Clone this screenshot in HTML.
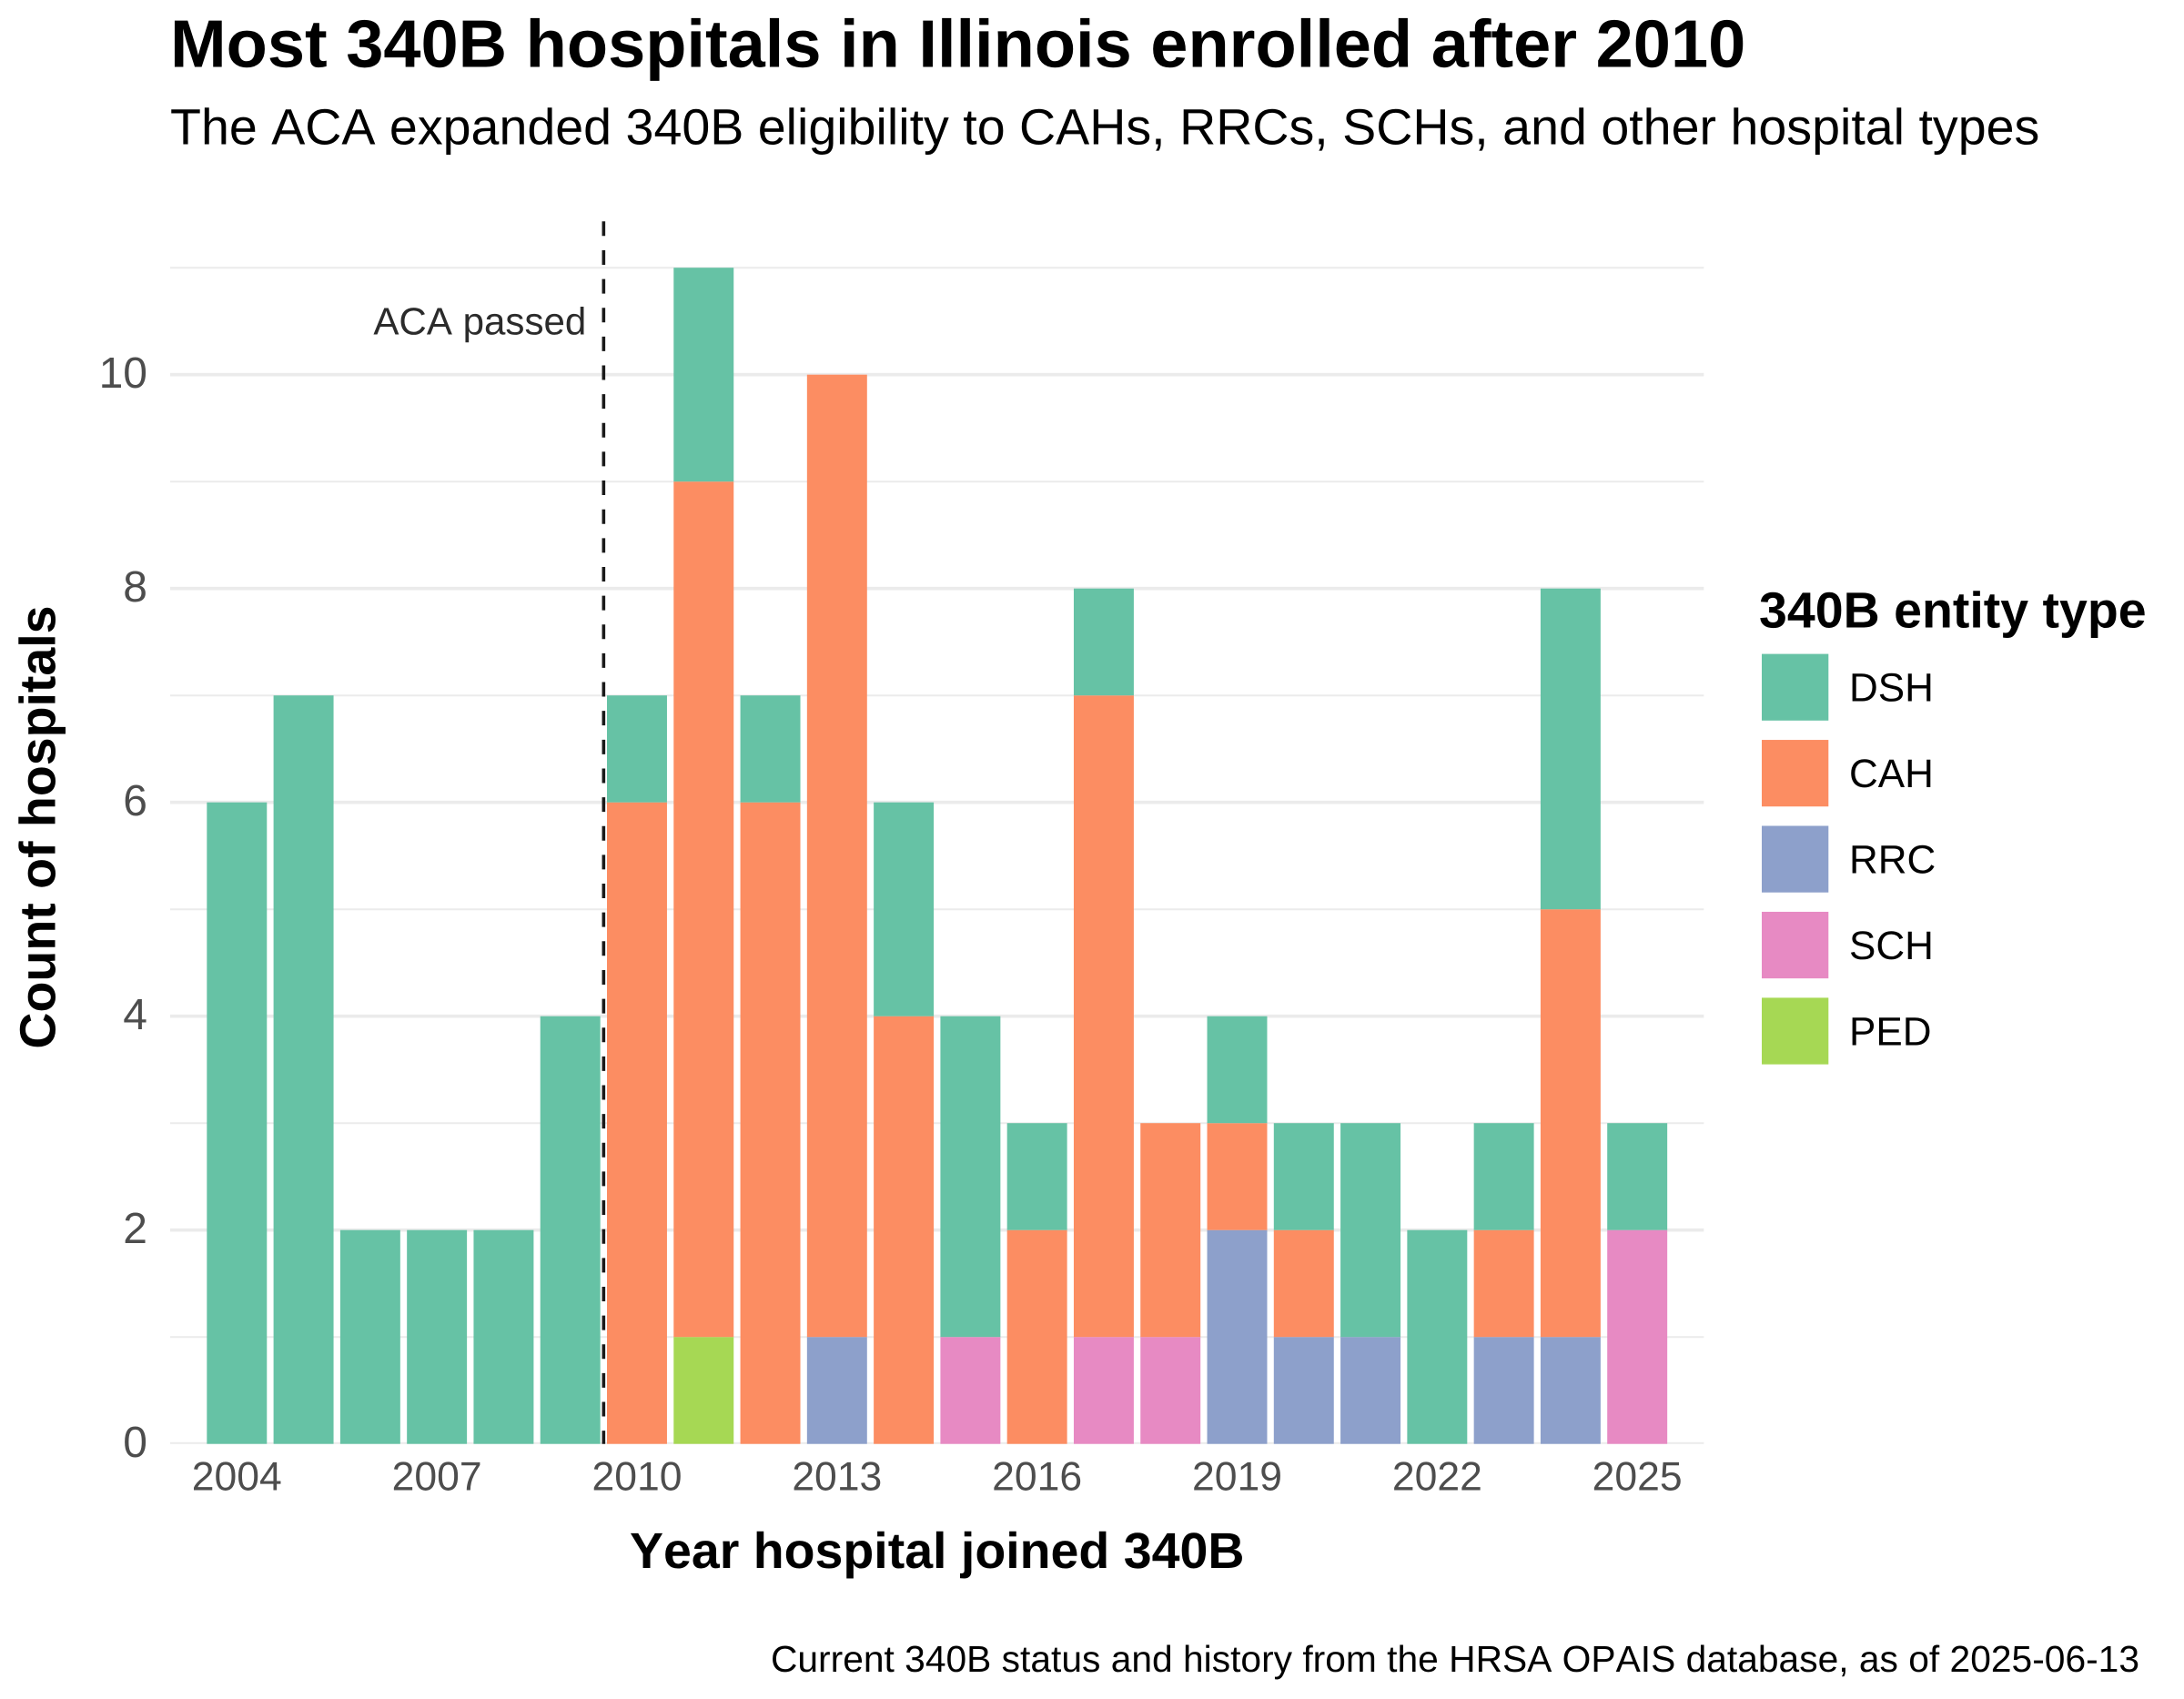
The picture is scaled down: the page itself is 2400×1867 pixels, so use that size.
<!DOCTYPE html>
<html lang="en">
<head>
<meta charset="utf-8">
<title>Most 340B hospitals in Illinois enrolled after 2010</title>
<style>
html,body{margin:0;padding:0;background:#fff}
svg{display:block}
text{font-family:"Liberation Sans",Arial,sans-serif;text-rendering:geometricPrecision;font-kerning:none}
</style>
</head>
<body>
<svg id="chart" xmlns="http://www.w3.org/2000/svg" width="2400" height="1867" viewBox="0 0 2400 1867">
  <defs>
    <clipPath id="panel-clip"><rect x="187" y="243.3" width="1685.4" height="1343.4"/></clipPath>
  </defs>
  <rect x="0" y="0" width="2400" height="1867" fill="#ffffff"/>
  <text x="187" y="73.3" font-size="74" font-weight="700" fill="#000">Most 340B hospitals in Illinois enrolled after 2010</text>
  <text x="187" y="158.3" font-size="55.58" fill="#000">The ACA expanded 340B eligibility to CAHs, RRCs, SCHs, and other hospital types</text>
  <g id="grid" clip-path="url(#panel-clip)"></g>
  <g id="bars"></g>
  <g id="annotation"></g>
  <g id="y-axis"></g>
  <g id="x-axis"></g>
  <text x="1029.7" y="1723" font-size="55.5" font-weight="700" text-anchor="middle" fill="#000">Year hospital joined 340B</text>
  <text transform="translate(60.7,909) rotate(-90)" font-size="55.5" font-weight="700" text-anchor="middle" fill="#000">Count of hospitals</text>
  <g id="legend">
    <text x="1933" y="689.7" font-size="55.5" font-weight="700" fill="#000">340B entity type</text>
  </g>
  <text x="2351" y="1837" font-size="40.75" text-anchor="end" fill="#000">Current 340B status and history from the HRSA OPAIS database, as of 2025-06-13</text>
</svg>
<script>
const years = [2004,2005,2006,2007,2008,2009,2010,2011,2012,2013,2014,2015,2016,2017,2018,2019,2020,2021,2022,2023,2024,2025];
const dsh = [6,7,2,2,2,4,1,2,1,0,2,3,1,1,0,1,1,2,2,1,3,1];
const cah = [0,0,0,0,0,0,6,8,6,9,4,0,2,6,2,1,1,0,0,1,4,0];
const rrc = [0,0,0,0,0,0,0,0,0,1,0,0,0,0,0,2,1,1,0,1,1,0];
const sch = [0,0,0,0,0,0,0,0,0,0,0,1,0,1,1,0,0,0,0,0,0,2];
const ped = [0,0,0,0,0,0,0,1,0,0,0,0,0,0,0,0,0,0,0,0,0,0];
const xTickLabels = [2004,2007,2010,2013,2016,2019,2022,2025];
const yTickLabels = [0,2,4,6,8,10];
const yMinorTicks = [1,3,5,7,9,11];
const legendLabels = ['DSH','CAH','RRC','SCH','PED'];
const acaYear = 2009.5;
const acaLabel = 'ACA passed';

const SVGNS = 'http://www.w3.org/2000/svg';
const fills = {DSH:'#66c2a5',CAH:'#fc8d62',RRC:'#8da0cb',SCH:'#e78ac3',PED:'#a6d854'};
const seriesByName = {DSH:dsh,CAH:cah,RRC:rrc,SCH:sch,PED:ped};
const stackOrder = ['PED','SCH','RRC','CAH','DSH'];
const panel = {left:187,right:1872.4,top:243.3,bottom:1586.7};
const xUnit = 73.28, yUnit = 117.5, barWidth = 0.9;
function xScale(year){ return 260.3 + (year - 2004) * xUnit; }
function yScale(value){ return panel.bottom - value * yUnit; }
function make(tag, parent, props, content){
  const el = document.createElementNS(SVGNS, tag);
  for (const k in props) el.setAttribute(k, props[k]);
  if (content !== undefined) el.textContent = content;
  parent.appendChild(el);
  return el;
}

const gridGroup = document.getElementById('grid');
yMinorTicks.forEach(function(v){
  const el = make('line', gridGroup, {x1:panel.left,x2:panel.right,y1:yScale(v),y2:yScale(v),stroke:'#ebebeb','stroke-width':2});
  
  
});
yTickLabels.forEach(function(v){
  const el = make('line', gridGroup, {x1:panel.left,x2:panel.right,y1:yScale(v),y2:yScale(v),stroke:'#ebebeb','stroke-width':3.6});
  
  
});

const barGroup = document.getElementById('bars');
years.forEach(function(year, i){
  let base = 0;
  stackOrder.forEach(function(name){
    const value = seriesByName[name][i];
    if (!value) return;
    const top = base + value;
    const el = make('rect', barGroup, {
      x: xScale(year - barWidth / 2),
      y: yScale(top),
      width: xScale(year + barWidth / 2) - xScale(year - barWidth / 2),
      height: yScale(base) - yScale(top),
      fill: fills[name]
    });
    
    
    base = top;
  });
});

const annGroup = document.getElementById('annotation');
const acaLine = make('line', annGroup, {x1:xScale(acaYear),x2:xScale(acaYear),y1:panel.top,y2:panel.bottom,stroke:'#1a1a1a','stroke-width':3.6,'stroke-dasharray':'16 15.64'});


const acaText = make('text', annGroup, {x:xScale(acaYear) - 19,y:367.5,'font-size':42.1,'text-anchor':'end',fill:'#2b2b2b'}, acaLabel);



const yAxis = document.getElementById('y-axis');
yTickLabels.forEach(function(v){
  const el = make('text', yAxis, {x:162,y:yScale(v) + 14.5,'font-size':48,'text-anchor':'end',fill:'#4d4d4d'}, String(v));
  
  
});

const xAxis = document.getElementById('x-axis');
xTickLabels.forEach(function(year){
  const el = make('text', xAxis, {x:xScale(year),y:1637.3,'font-size':44.5,'text-anchor':'middle',fill:'#4d4d4d'}, String(year));
  
  
});

const legend = document.getElementById('legend');
legendLabels.forEach(function(label, i){
  const top = 718.6 + i * 94.45;
  const swatch = make('rect', legend, {x:1936,y:top,width:73.3,height:73.2,fill:fills[label]});
  
  
  const txt = make('text', legend, {x:2032,y:top + 52.1,'font-size':44,fill:'#000'}, label);
  
  
});
</script>
</body>
</html>
